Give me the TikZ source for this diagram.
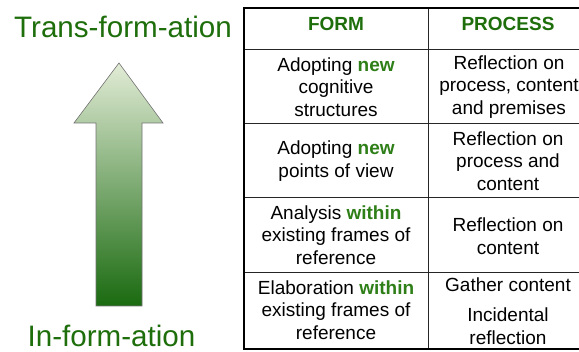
\documentclass[tikz,border=0pt]{standalone}
\usepackage{fontspec}
\setmainfont{Liberation Sans}
\definecolor{labgreen}{HTML}{1E6E0C}
\definecolor{keygreen}{HTML}{2F7F18}
\definecolor{arrtop}{HTML}{E2ECD6}
\definecolor{arrmid}{HTML}{A6C07E}
\definecolor{arrbot}{HTML}{1A6A10}
\begin{document}
\begin{tikzpicture}[x=1pt,y=-1pt,
  biglab/.style={font=\fontsize{29.6}{32}\selectfont, text=labgreen, inner sep=0pt, anchor=base},
  head/.style={font=\fontsize{19}{22}\selectfont\bfseries, text=labgreen, inner sep=0pt, anchor=base},
  cell/.style={font=\fontsize{19}{22.5}\selectfont, align=center, inner sep=0pt},
  outer/.style={draw=black, line width=1.6pt},
  inner/.style={draw=black!85, line width=0.8pt}]
\clip (0,0) rectangle (579,352);
\fill[white] (0,0) rectangle (579,352);
\newcommand{\kwd}[1]{\textcolor{keygreen}{\bfseries #1}}
% arrow
\shade[top color=arrtop, middle color=arrmid, bottom color=arrbot]
  (119,63) -- (163,123) -- (142,123) -- (142,306) -- (96,306) -- (96,123) -- (74,123) -- cycle;
\draw[draw=black!55, line width=0.6pt]
  (119,63) -- (163,123) -- (142,123) -- (142,306) -- (96,306) -- (96,123) -- (74,123) -- cycle;
\node[biglab] (top) at (123,38) {Trans-form-ation};
\node[biglab] (bot) at (111.5,347) {In-form-ation};
% table lines
\draw[inner] (244,49) -- (590,49);
\draw[inner] (244,123) -- (590,123);
\draw[inner] (244,197) -- (590,197);
\draw[inner] (244,272) -- (590,272);
\draw[inner] (428,8) -- (428,349);
\draw[outer] (600,8) -- (244,8) -- (244,349) -- (600,349);
% header
\node[head] (hform) at (336,31) {FORM};
\node[head] (hproc) at (508,31) {PROCESS};
% row 1
\node[cell] (f1) at (336,87) {Adopting \kwd{new}\\cognitive\\structures};
\node[cell] (p1) at (509,87) {Reflection on\\process, content\\and premises};
% row 2
\node[cell] (f2) at (336,161) {Adopting \kwd{new}\\points of view};
\node[cell] (p2) at (508,161) {Reflection on\\process and\\content};
% row 3
\node[cell] (f3) at (336,235) {Analysis \kwd{within}\\existing frames of\\reference};
\node[cell] (p3) at (508,236) {Reflection on\\content};
% row 4
\node[cell] (f4) at (336,310) {Elaboration \kwd{within}\\existing frames of\\reference};
\node[cell, anchor=base] (p4a) at (508,292) {Gather content};
\node[cell] (p4b) at (508,326) {Incidental\\reflection};
\end{tikzpicture}
\end{document}
